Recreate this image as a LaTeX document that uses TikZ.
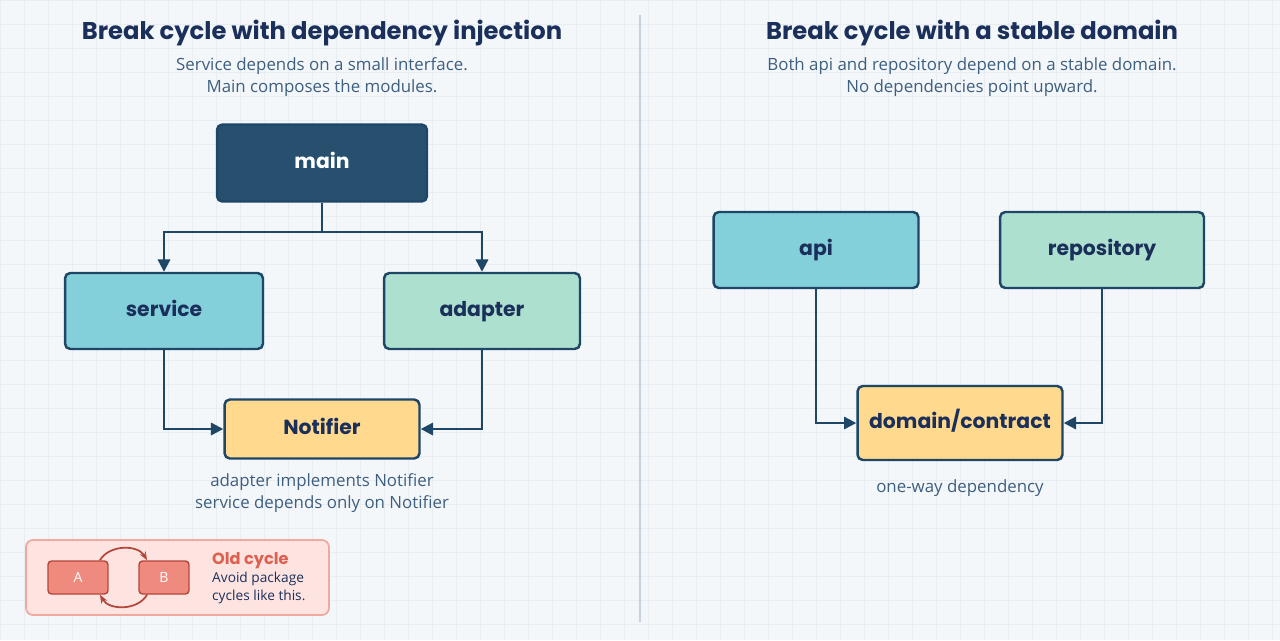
\documentclass[tikz,border=0pt]{standalone}
\usepackage{fontspec}
\setmainfont{Open Sans}
\newfontfamily\headfont{Poppins}
\usetikzlibrary{arrows.meta}
\usetikzlibrary{positioning}
\definecolor{navy}{HTML}{1B2F5B}
\definecolor{slate}{HTML}{3E5F7E}
\definecolor{mainfill}{HTML}{27506F}
\definecolor{tealfill}{HTML}{84D0DA}
\definecolor{mintfill}{HTML}{AEE0CF}
\definecolor{sandfill}{HTML}{FFD98E}
\definecolor{edgecol}{HTML}{1E4666}
\definecolor{redfill}{HTML}{FDE4E1}
\definecolor{redline}{HTML}{F0A9A1}
\definecolor{redbox}{HTML}{EE8A7E}
\definecolor{redtext}{HTML}{E0604F}
\definecolor{redarrow}{HTML}{B5473A}
\tikzset{
  module/.style={draw=edgecol, line width=1.4pt, rounded corners=3pt, align=center,
    text=navy, text height=8.5pt, text depth=2.5pt, font=\headfont\fontsize{11.6}{14}\selectfont\bfseries},
  dep/.style={-{Triangle[length=7pt,width=7pt]}, draw=edgecol, line width=1.3pt},
  title/.style={text=navy, font=\headfont\fontsize{13.8}{17}\selectfont\bfseries},
  note/.style={text=slate, align=center, font=\fontsize{9.6}{12.4}\selectfont},
  cyc/.style={-{Stealth[length=5pt]}, draw=redarrow, line width=1pt},
}
\begin{document}
\begin{tikzpicture}[x=0.02cm, y=-0.02cm]
    \fill[color={rgb,255:red,244;green,247;blue,250}] (0,0) rectangle (1280,640);
    \useasboundingbox (0,0) rectangle (1280,640);
    \foreach \g in {0,24,...,1280}
        \draw[color={rgb,255:red,232;green,237;blue,242}, line width=0.3pt] (\g,0) -- (\g,640);
    \foreach \g in {0,24,...,640}
        \draw[color={rgb,255:red,232;green,237;blue,242}, line width=0.3pt] (0,\g) -- (1280,\g);
    \draw[color={rgb,255:red,200;green,210;blue,220}, line width=0.8pt] (640,15) -- (640,622);

    % left: dependency injection
    \node [title] (ltitle) at (322,33) {Break cycle with dependency injection};
    \node [note] (lsub) at (322,77) {Service depends on a small interface.\\Main composes the modules.};
    \node [module, fill=mainfill, text=white, minimum width=4.2cm, minimum height=1.54cm] (main) at (322,163) {main};
    \node [module, fill=tealfill, minimum width=3.96cm, minimum height=1.52cm] (service) at (164,311) {service};
    \node [module, fill=mintfill, minimum width=3.92cm, minimum height=1.52cm] (adapter) at (482,311) {adapter};
    \node [module, fill=sandfill, minimum width=3.9cm, minimum height=1.18cm] (notifier) at (322,429) {Notifier};
    \node [note] (lcap) at (322,493) {adapter implements Notifier\\service depends only on Notifier};
    \coordinate (split) at (322,232);
    \draw[dep] (main.south) -- (split) -| (service.north);
    \draw[dep] (split) -| (adapter.north);
    \draw[dep] (service.south) |- (notifier.west);
    \draw[dep] (adapter.south) |- (notifier.east);

    % old cycle hint
    \node [draw=redline, fill=redfill, line width=1pt, rounded corners=4pt, minimum width=6.06cm, minimum height=1.5cm] (oldbox) at (177.5,577.5) {};
    \node [draw=redarrow, fill=redbox, rounded corners=2pt, line width=0.8pt, minimum width=1.2cm, minimum height=0.66cm, text=white, font=\fontsize{8}{9}\selectfont] (a) at (78,577.5) {A};
    \node [draw=redarrow, fill=redbox, rounded corners=2pt, line width=0.8pt, minimum width=1.0cm, minimum height=0.66cm, text=white, font=\fontsize{8}{9}\selectfont] (b) at (164,577.5) {B};
    \draw[cyc] ([xshift=-5pt]a.north east) to [out=60, in=120] ([xshift=5pt]b.north west);
    \draw[cyc] ([xshift=5pt]b.south west) to [out=-120, in=-60] ([xshift=-5pt]a.south east);
    \node [anchor=west, text=redtext, font=\headfont\fontsize{9.2}{11}\selectfont\bfseries] (oldtitle) at (206,561) {Old cycle};
    \node [anchor=north west, align=left, text=navy, inner ysep=0pt, font=\fontsize{7.8}{10.2}\selectfont] (oldtext) at (206,572) {Avoid package\\cycles like this.};

    % right: stable domain
    \node [title] (rtitle) at (972,33) {Break cycle with a stable domain};
    \node [note] (rsub) at (972,77) {Both api and repository depend on a stable domain.\\No dependencies point upward.};
    \node [module, fill=tealfill, minimum width=4.1cm, minimum height=1.52cm] (api) at (816,250) {api};
    \node [module, fill=mintfill, minimum width=4.08cm, minimum height=1.52cm] (repo) at (1102,250) {repository};
    \node [module, fill=sandfill, minimum width=4.1cm, minimum height=1.48cm] (domain) at (960,423) {domain/contract};
    \node [note] (rcap) at (960,488) {one-way dependency};
    \draw[dep] (api.south) |- (domain.west);
    \draw[dep] (repo.south) |- (domain.east);
\end{tikzpicture}
\end{document}
